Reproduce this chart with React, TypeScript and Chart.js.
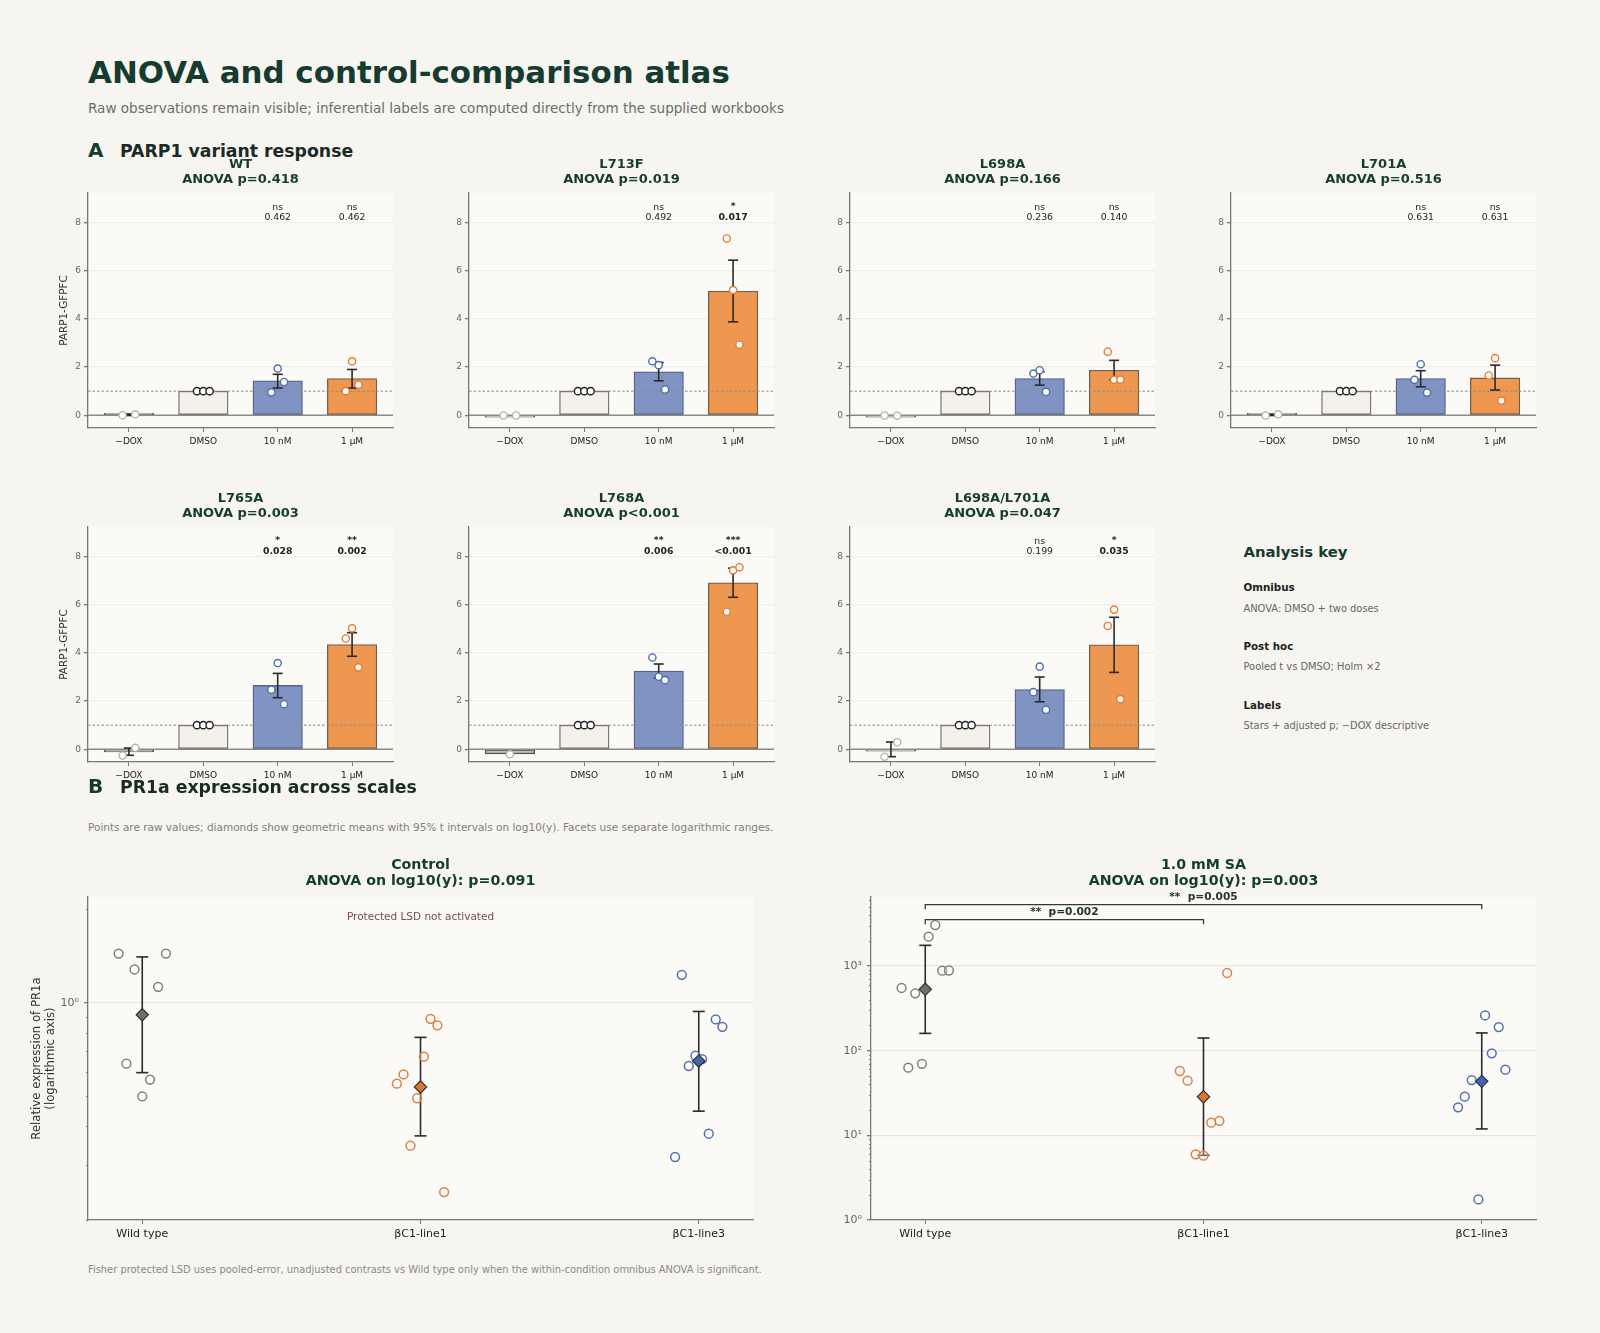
import React, { useRef, useEffect } from 'react';
import { Chart, registerables } from 'chart.js';

Chart.register(...registerables);

const FONT = '"DejaVu Sans", sans-serif';
const PAGE_BG = '#f6f5f0';
const PANEL_BG = '#fbfaf7';
const DARK_GREEN = '#163b30';

// Panel A
const doses = ['−DOX', 'DMSO', '10 nM', '1 μM'];
const doseJitter = [-0.085, 0, 0.085];

const wtMeans = [0.02, 1, 1.43, 1.52];
const wtLow = [-0.01, null, 1.13, 1.13];
const wtHigh = [0.05, null, 1.70, 1.90];
const wtPoints = [[0.0, null, 0.04], [1, 1, 1], [0.95, 1.94, 1.38], [1.0, 2.24, 1.27]];

const l713fMeans = [-0.01, 1, 1.80, 5.15];
const l713fLow = [null, null, 1.43, 3.88];
const l713fHigh = [null, null, 2.19, 6.44];
const l713fPoints = [[-0.01, null, -0.01], [1, 1, 1], [2.24, 2.08, 1.07], [7.34, 5.2, 2.93]];

const l698aMeans = [-0.01, 1, 1.52, 1.87];
const l698aLow = [null, null, 1.25, 1.48];
const l698aHigh = [null, null, 1.81, 2.28];
const l698aPoints = [[-0.01, null, -0.02], [1, 1, 1], [1.73, 1.87, 0.97], [2.64, 1.47, 1.48]];

const l701aMeans = [0.01, 1, 1.52, 1.55];
const l701aLow = [-0.01, null, 1.18, 1.05];
const l701aHigh = [0.04, null, 1.85, 2.08];
const l701aPoints = [[-0.01, null, 0.04], [1, 1, 1], [1.47, 2.12, 0.94], [1.65, 2.37, 0.61]];

const l765aMeans = [-0.11, 1, 2.65, 4.35];
const l765aLow = [-0.25, null, 2.14, 3.86];
const l765aHigh = [0.05, null, 3.15, 4.84];
const l765aPoints = [[-0.26, null, 0.06], [1, 1, 1], [2.47, 3.58, 1.87], [4.6, 5.02, 3.4]];

const l768aMeans = [-0.19, 1, 3.25, 6.91];
const l768aLow = [null, null, 2.95, 6.31];
const l768aHigh = [null, null, 3.54, 7.52];
const l768aPoints = [[null, -0.21, null], [1, 1, 1], [3.81, 3.01, 2.87], [5.71, 7.43, 7.56]];

const doubleMeans = [-0.01, 1, 2.48, 4.34];
const doubleLow = [-0.31, null, 1.97, 3.19];
const doubleHigh = [0.30, null, 3.0, 5.48];
const doublePoints = [[-0.31, null, 0.29], [1, 1, 1], [2.37, 3.43, 1.64], [5.12, 5.8, 2.08]];

const parpPanels = [
  { name: 'WT', anova: 'ANOVA p=0.418', means: wtMeans, low: wtLow, high: wtHigh, points: wtPoints, stars: ['ns', 'ns'], adj: ['0.462', '0.462'] },
  { name: 'L713F', anova: 'ANOVA p=0.019', means: l713fMeans, low: l713fLow, high: l713fHigh, points: l713fPoints, stars: ['ns', '*'], adj: ['0.492', '0.017'] },
  { name: 'L698A', anova: 'ANOVA p=0.166', means: l698aMeans, low: l698aLow, high: l698aHigh, points: l698aPoints, stars: ['ns', 'ns'], adj: ['0.236', '0.140'] },
  { name: 'L701A', anova: 'ANOVA p=0.516', means: l701aMeans, low: l701aLow, high: l701aHigh, points: l701aPoints, stars: ['ns', 'ns'], adj: ['0.631', '0.631'] },
  { name: 'L765A', anova: 'ANOVA p=0.003', means: l765aMeans, low: l765aLow, high: l765aHigh, points: l765aPoints, stars: ['*', '**'], adj: ['0.028', '0.002'] },
  { name: 'L768A', anova: 'ANOVA p<0.001', means: l768aMeans, low: l768aLow, high: l768aHigh, points: l768aPoints, stars: ['**', '***'], adj: ['0.006', '<0.001'] },
  { name: 'L698A/L701A', anova: 'ANOVA p=0.047', means: doubleMeans, low: doubleLow, high: doubleHigh, points: doublePoints, stars: ['ns', '*'], adj: ['0.199', '0.035'] },
];
const parpRects = [
  { left: 40, top: 157 }, { left: 421, top: 157 }, { left: 802, top: 157 }, { left: 1183, top: 157 },
  { left: 40, top: 491 }, { left: 421, top: 491 }, { left: 802, top: 491 },
];

const barFills = ['#bdbdb8', '#f3f1ea', '#8094c4', '#ee9751'];
const barEdges = ['#555', '#6e6e6a', '#56618a', '#75604a'];
const pointEdges = ['#b4b4ae', '#222', '#4f6db5', '#ea7a35'];

// Panel B
const lines = ['Wild type', 'βC1-line1', 'βC1-line3'];
const lineFills = ['#6f6f6f', '#d9772f', '#4464a8'];
const lineEdges = ['#808080', '#e07f45', '#5570b0'];

const controlJitter = [
  [-0.085, 0.085, -0.028, 0.057, -0.057, 0.028, 0],
  [0.036, 0.061, 0.012, -0.061, -0.085, -0.012, -0.036, 0.085],
  [-0.061, 0.061, 0.085, -0.012, 0.012, -0.036, 0.036, -0.085],
];
const controlValues = [
  [1.44, 1.44, 1.28, 1.126, 0.637, 0.566, 0.50],
  [0.888, 0.846, 0.671, 0.588, 0.549, 0.493, 0.347, 0.246],
  [1.23, 0.884, 0.837, 0.676, 0.659, 0.626, 0.379, 0.319],
];
const controlGeo = [0.915, 0.536, 0.650];
const controlLow = [0.596, 0.373, 0.448];
const controlHigh = [1.405, 0.774, 0.938];

const saJitter = [
  [0.036, 0.012, 0.061, 0.085, -0.085, -0.036, -0.012, -0.061],
  [0.085, -0.085, -0.057, 0.057, 0.028, -0.028, 0],
  [0.012, 0.061, 0.036, 0.085, -0.036, -0.061, -0.085, -0.012],
];
const saValues = [
  [3048, 2220, 881, 885, 550, 476, 70, 63],
  [827, 57.5, 44.2, 14.8, 14.1, 5.96, 5.75],
  [261, 190, 93, 59.7, 45, 28.6, 21.4, 1.75],
];
const saGeo = [530, 28.6, 43.4];
const saLow = [160, 5.81, 11.9];
const saHigh = [1754, 141, 162];

const bracketLine1 = [3105, 3525];
const bracketLine3 = [4670, 5300];

const controlMajor = [1];
const controlMinor = [0.2, 0.3, 0.4, 0.5, 0.6, 0.7, 0.8, 0.9, 2];
const saMajor = [1, 10, 100, 1000];
const saMinor = [2, 3, 4, 5, 6, 7, 8, 9, 20, 30, 40, 50, 60, 70, 80, 90, 200, 300, 400, 500, 600, 700, 800, 900, 2000, 3000, 4000, 5000, 6000];
const decadeLabels: Record<number, string> = { 1: '10⁰', 10: '10¹', 100: '10²', 1000: '10³' };

type TextMark = { x: number; y: number; text: string; bold?: boolean; size: number; color: string };

const backdrop = {
  id: 'backdrop',
  beforeDraw(chart: any) {
    const { ctx, chartArea: a } = chart;
    ctx.save();
    ctx.fillStyle = PANEL_BG;
    ctx.fillRect(a.left, a.top, a.right - a.left, a.bottom - a.top);
    ctx.restore();
  },
};

// text marks sit on the data scales so they follow the axes
const textMarks = (marks: TextMark[]) => ({
  id: 'textMarks',
  afterDraw(chart: any) {
    const { ctx, scales } = chart;
    ctx.save();
    ctx.textAlign = 'center';
    ctx.textBaseline = 'middle';
    marks.forEach((m) => {
      ctx.font = `${m.bold ? 'bold ' : ''}${m.size}px ${FONT}`;
      ctx.fillStyle = m.color;
      ctx.fillText(m.text, scales.x.getPixelForValue(m.x), scales.y.getPixelForValue(m.y));
    });
    ctx.restore();
  },
});

const minorTicks = (values: number[]) => ({
  id: 'minorTicks',
  afterDraw(chart: any) {
    const { ctx, scales, chartArea } = chart;
    ctx.save();
    ctx.strokeStyle = '#777';
    ctx.lineWidth = 1;
    values.forEach((v) => {
      const y = Math.round(scales.y.getPixelForValue(v)) + 0.5;
      ctx.beginPath();
      ctx.moveTo(chartArea.left, y);
      ctx.lineTo(chartArea.left - 2, y);
      ctx.stroke();
    });
    ctx.restore();
  },
});

const errorData = (low: (number | null)[], high: (number | null)[]) =>
  low.flatMap((lo, i) =>
    lo === null ? [] : [{ x: i, y: lo }, { x: i, y: high[i] }, { x: i, y: null }]
  );

const errorDataset = (data: any[], cap: number) => ({
  type: 'line',
  data,
  order: 2,
  spanGaps: false,
  borderColor: '#2a2a2a',
  borderWidth: 1.6,
  pointStyle: 'line',
  pointRadius: cap,
  pointBorderColor: '#2a2a2a',
  pointBorderWidth: 1.6,
});

const axisBase = {
  border: { color: '#777', width: 1.3 },
};

// force the axis box and drop the label overhang so the plot area stays put
const fitX = (height: number) => (s: any) => {
  s.height = height;
  s.paddingLeft = 0;
  s.paddingRight = 0;
};
const fitY = (width: number) => (s: any) => {
  s.width = width;
  s.paddingTop = 0;
  s.paddingBottom = 0;
};

function parpConfig(panel: typeof parpPanels[number], showLabel: boolean) {
  const xMin = -0.55;
  const xMax = 3.55;
  const marks: TextMark[] = [];
  panel.stars.forEach((s, i) => {
    const sig = s !== 'ns';
    marks.push({ x: i + 2, y: sig ? 8.68 : 8.62, text: s, bold: sig, size: 9.3, color: '#222' });
    marks.push({ x: i + 2, y: 8.2, text: panel.adj[i], bold: sig, size: 9.3, color: '#222' });
  });
  return {
    type: 'bar',
    data: {
      datasets: [
        {
          type: 'bar',
          data: panel.means.map((m, i) => ({ x: i, y: m })),
          order: 5,
          barThickness: 49.5,
          minBarLength: 2,
          backgroundColor: barFills,
          borderColor: barEdges,
          borderWidth: 1.3,
          borderSkipped: false,
        },
        {
          type: 'line',
          data: [{ x: xMin, y: 0 }, { x: xMax, y: 0 }],
          order: 4,
          borderColor: '#8a8a86',
          borderWidth: 1.3,
          pointRadius: 0,
        },
        {
          type: 'line',
          data: [{ x: xMin, y: 1 }, { x: xMax, y: 1 }],
          order: 3,
          borderColor: '#8a8a86',
          borderWidth: 1,
          borderDash: [2.5, 2],
          pointRadius: 0,
        },
        errorDataset(errorData(panel.low, panel.high), 5),
        ...panel.points.map((vals, i) => ({
          type: 'scatter',
          data: vals
            .map((v, j) => ({ x: i + doseJitter[j], y: v }))
            .filter((p) => p.y !== null),
          order: 1,
          pointRadius: 3.6,
          pointBackgroundColor: '#fff',
          pointBorderColor: pointEdges[i],
          pointBorderWidth: 1.4,
        })),
      ],
    },
    options: {
      animation: false,
      responsive: false,
      events: [],
      layout: { autoPadding: false, padding: { right: 2, left: 0, top: 0, bottom: 0 } },
      plugins: {
        legend: { display: false },
        tooltip: { enabled: false },
        title: {
          display: true,
          fullSize: false,
          text: [panel.name, panel.anova],
          color: DARK_GREEN,
          font: { family: FONT, size: 13, weight: 'bold', lineHeight: 15 / 13 },
          padding: { top: 0, bottom: 6 },
        },
      },
      scales: {
        x: {
          ...axisBase,
          type: 'linear',
          min: xMin,
          max: xMax,
          offset: false,
          afterFit: fitX(24),
          afterBuildTicks: (s: any) => { s.ticks = doses.map((_, i) => ({ value: i })); },
          grid: { offset: false, drawOnChartArea: false, tickColor: '#777', tickLength: 4 },
          ticks: {
            color: '#222',
            font: { family: FONT, size: 9 },
            maxRotation: 0,
            autoSkip: false,
            padding: 4,
            callback: (v: any) => doses[v],
          },
        },
        y: {
          ...axisBase,
          min: -0.53,
          max: 9.23,
          afterFit: fitY(48),
          afterBuildTicks: (s: any) => { s.ticks = [0, 2, 4, 6, 8].map((v) => ({ value: v })); },
          grid: { color: '#efeeea', lineWidth: 1.3, tickColor: '#777', tickLength: 4 },
          ticks: { color: '#666', font: { family: FONT, size: 9 }, padding: 3 },
          title: {
            display: showLabel,
            text: 'PARP1-GFPFC',
            color: '#333',
            font: { family: FONT, size: 10.4, lineHeight: 1.2 },
            padding: { top: 18, bottom: 0 },
          },
        },
      },
    },
    plugins: [backdrop, textMarks(marks)],
  };
}

function scaleConfig(opts: {
  title: string[];
  jitter: number[][];
  values: number[][];
  geo: number[];
  low: number[];
  high: number[];
  yMin: number;
  yMax: number;
  major: number[];
  minor: number[];
  marks: TextMark[];
  brackets: any[];
  yTitle?: string[];
}) {
  return {
    type: 'scatter',
    data: {
      datasets: [
        ...opts.brackets,
        errorDataset(errorData(opts.low, opts.high), 6),
        ...opts.values.map((vals, i) => ({
          type: 'scatter',
          data: vals.map((v, j) => ({ x: i + opts.jitter[i][j], y: v })),
          order: 1,
          pointRadius: 4.4,
          pointBackgroundColor: 'rgba(255,255,255,0.3)',
          pointBorderColor: lineEdges[i],
          pointBorderWidth: 1.5,
        })),
        ...opts.geo.map((g, i) => ({
          type: 'scatter',
          data: [{ x: i, y: g }],
          order: 0,
          pointStyle: 'rectRot',
          pointRadius: 6.2,
          pointBackgroundColor: lineFills[i],
          pointBorderColor: '#2a2a2a',
          pointBorderWidth: 1.1,
        })),
      ],
    },
    options: {
      animation: false,
      responsive: false,
      events: [],
      layout: { autoPadding: false, padding: { right: 2, left: 0, top: 0, bottom: 0 } },
      plugins: {
        legend: { display: false },
        tooltip: { enabled: false },
        title: {
          display: true,
          fullSize: false,
          text: opts.title,
          color: DARK_GREEN,
          font: { family: FONT, size: 14.2, weight: 'bold', lineHeight: 16 / 14.2 },
          padding: { top: 0, bottom: 8 },
        },
      },
      scales: {
        x: {
          ...axisBase,
          type: 'linear',
          min: -0.195,
          max: 2.195,
          afterFit: fitX(30),
          afterBuildTicks: (s: any) => { s.ticks = lines.map((_, i) => ({ value: i })); },
          grid: { drawOnChartArea: false, tickColor: '#777', tickLength: 4 },
          ticks: {
            color: '#222',
            font: { family: FONT, size: 11 },
            maxRotation: 0,
            autoSkip: false,
            padding: 4,
            callback: (v: any) => lines[v],
          },
        },
        y: {
          ...axisBase,
          type: 'logarithmic',
          min: opts.yMin,
          max: opts.yMax,
          afterFit: fitY(68),
          afterBuildTicks: (s: any) => { s.ticks = opts.major.map((v) => ({ value: v })); },
          grid: { color: '#e6e5e0', lineWidth: 1.3, tickColor: '#777', tickLength: 4 },
          ticks: {
            color: '#666',
            font: { family: FONT, size: 11 },
            padding: 5,
            callback: (v: any) => decadeLabels[v],
          },
          title: {
            display: !!opts.yTitle,
            text: opts.yTitle,
            color: '#333',
            font: { family: FONT, size: 11.7, lineHeight: 14.2 / 11.7 },
            padding: { top: 10, bottom: 0 },
          },
        },
      },
    },
    plugins: [backdrop, minorTicks(opts.minor), textMarks(opts.marks)],
  };
}

const bracketDataset = (xEnd: number, ys: number[]) => ({
  type: 'line',
  data: [{ x: 0, y: ys[0] }, { x: 0, y: ys[1] }, { x: xEnd, y: ys[1] }, { x: xEnd, y: ys[0] }],
  order: 2,
  borderColor: '#2c3e38',
  borderWidth: 1.3,
  pointRadius: 0,
});

const controlConfig = () =>
  scaleConfig({
    title: ['Control', 'ANOVA on log10(y): p=0.091'],
    jitter: controlJitter,
    values: controlValues,
    geo: controlGeo,
    low: controlLow,
    high: controlHigh,
    yMin: 0.2,
    yMax: 2.19,
    major: controlMajor,
    minor: controlMinor,
    brackets: [],
    yTitle: ['Relative expression of PR1a', '(logarithmic axis)'],
    marks: [{ x: 1, y: 1.88, text: 'Protected LSD not activated', size: 10.5, color: '#7a4a4a' }],
  });

const saConfig = () =>
  scaleConfig({
    title: ['1.0 mM SA', 'ANOVA on log10(y): p=0.003'],
    jitter: saJitter,
    values: saValues,
    geo: saGeo,
    low: saLow,
    high: saHigh,
    yMin: 1,
    yMax: 6530,
    major: saMajor,
    minor: saMinor,
    brackets: [bracketDataset(1, bracketLine1), bracketDataset(2, bracketLine3)],
    marks: [
      { x: 0.5, y: 4266, text: '**  p=0.002', bold: true, size: 10.6, color: '#24332e' },
      { x: 1, y: 6412, text: '**  p=0.005', bold: true, size: 10.6, color: '#24332e' },
    ],
  });

const ChartBox: React.FC<{ config: () => any; left: number; top: number; width: number; height: number }> = ({
  config, left, top, width, height,
}) => {
  const canvasRef = useRef<HTMLCanvasElement>(null);

  useEffect(() => {
    if (!canvasRef.current) return;
    const chart = new Chart(canvasRef.current, config() as any);
    return () => chart.destroy();
  }, []);

  return (
    <canvas
      ref={canvasRef}
      width={width}
      height={height}
      style={{ position: 'absolute', left, top, width, height }}
    />
  );
};

const Label: React.FC<{ x: number; y: number; size: number; color: string; bold?: boolean; children: React.ReactNode }> = ({
  x, y, size, color, bold, children,
}) => (
  <div
    style={{
      position: 'absolute',
      left: x,
      top: y,
      transform: 'translateY(-50%)',
      fontFamily: FONT,
      fontSize: size,
      fontWeight: bold ? 700 : 400,
      lineHeight: 1,
      color,
      whiteSpace: 'nowrap',
    }}
  >
    {children}
  </div>
);

const App: React.FC = () => (
  <div style={{ position: 'absolute', left: 0, top: 0, width: 1600, height: 1333, background: PAGE_BG, overflow: 'hidden' }}>
    <Label x={88} y={72} size={30.9} color={DARK_GREEN} bold>ANOVA and control-comparison atlas</Label>
    <Label x={88} y={109} size={13.55} color="#6b6f6a">Raw observations remain visible; inferential labels are computed directly from the supplied workbooks</Label>

    <Label x={88} y={150} size={20} color={DARK_GREEN} bold>A</Label>
    <Label x={120} y={152} size={17.3} color="#1b2a25" bold>PARP1 variant response</Label>

    {parpPanels.map((p, i) => (
      <ChartBox
        key={p.name}
        config={() => parpConfig(p, i === 0 || i === 4)}
        left={parpRects[i].left}
        top={parpRects[i].top}
        width={355}
        height={295}
      />
    ))}

    <Label x={1243.5} y={552} size={14.85} color={DARK_GREEN} bold>Analysis key</Label>
    <Label x={1243.5} y={587} size={10.3} color="#222" bold>Omnibus</Label>
    <Label x={1243.5} y={608.5} size={9.87} color="#666">ANOVA: DMSO + two doses</Label>
    <Label x={1243.5} y={646} size={10.3} color="#222" bold>Post hoc</Label>
    <Label x={1243.5} y={667} size={9.87} color="#666">Pooled t vs DMSO; Holm ×2</Label>
    <Label x={1243.5} y={705} size={10.3} color="#222" bold>Labels</Label>
    <Label x={1243.5} y={726} size={9.87} color="#666">Stars + adjusted p; −DOX descriptive</Label>

    <Label x={88} y={786} size={20} color={DARK_GREEN} bold>B</Label>
    <Label x={120} y={788} size={17.3} color="#1b2a25" bold>PR1a expression across scales</Label>
    <Label x={88} y={827} size={10.5} color="#808080">Points are raw values; diamonds show geometric means with 95% t intervals on log10(y). Facets use separate logarithmic ranges.</Label>

    <ChartBox config={controlConfig} left={20} top={857} width={735} height={393} />
    <ChartBox config={saConfig} left={803} top={857} width={735} height={393} />

    <Label x={88} y={1270} size={9.88} color="#8a8a8a">Fisher protected LSD uses pooled-error, unadjusted contrasts vs Wild type only when the within-condition omnibus ANOVA is significant.</Label>
  </div>
);

export default App;
